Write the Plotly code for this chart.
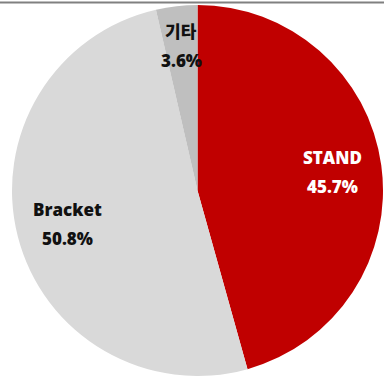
import math
import plotly.graph_objects as go

# Share by product type (%)
categories = ["STAND", "Bracket", "기타"]
shares = [45.7, 50.8, 3.6]
share_labels = ["45.7%", "50.8%", "3.6%"]

colors = ["#C00000", "#D9D9D9", "#BFBFBF"]
label_colors = ["#FFFFFF", "#111111", "#111111"]
label_radius = [0.735, 0.725, 0.785]   # fraction of pie radius where each label sits

W, H = 384, 376
TOP = 5                      # gap above the pie
CX = 197.5                   # pie centre, px from left
R = (H - TOP) / 2            # pie radius in px
CY = TOP + R                 # pie centre, px from top

fig = go.Figure(go.Pie(
    labels=categories,
    values=shares,
    sort=False,
    direction="clockwise",
    rotation=0,
    marker=dict(colors=colors, line=dict(width=0)),
    textinfo="none",
    hoverinfo="label+percent",
    showlegend=False,
    domain=dict(x=[(CX - R) / W, (CX + R) / W], y=[0, (H - TOP) / H]),
))

# Labels placed at the middle angle of each slice
total = sum(shares)
cum = 0.0
annotations = []
for name, val, txt, col, rf in zip(categories, shares, share_labels, label_colors, label_radius):
    mid = (cum + val / 2) / total * 2 * math.pi
    cum += val
    px = CX + rf * R * math.sin(mid)
    py = CY - rf * R * math.cos(mid)
    for line, shift in ((name, 14.5), (txt, -14.5)):
        annotations.append(dict(
            x=px / W, y=1 - py / H, xref="paper", yref="paper",
            text=line, showarrow=False, yshift=shift,
            xanchor="center", yanchor="middle",
            font=dict(family="Open Sans, Noto Sans CJK KR, sans-serif", size=17,
                      weight=800, color=col),
        ))

fig.update_layout(
    width=W, height=H,
    margin=dict(l=0, r=0, t=0, b=0),
    paper_bgcolor="white",
    plot_bgcolor="white",
    annotations=annotations,
    shapes=[dict(type="line", xref="paper", yref="paper",
                 x0=0, x1=1, y0=1 - 2.5 / H, y1=1 - 2.5 / H,
                 line=dict(color="#808080", width=2))],
)

fig.write_html("out.html")
